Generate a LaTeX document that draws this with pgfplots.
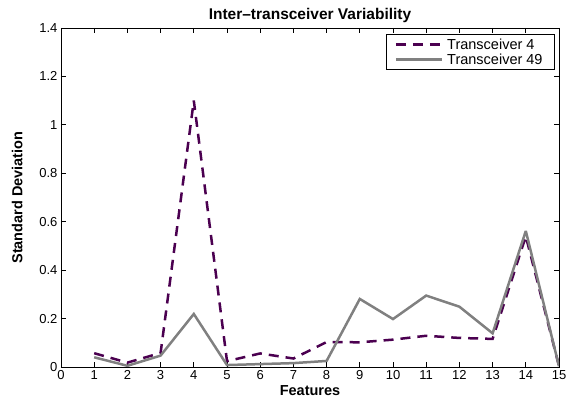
\documentclass[border=0pt]{standalone}
\usepackage{fontspec}
\setmainfont{Liberation Sans}
\usepackage{pgfplots}
\pgfplotsset{compat=1.18}
\definecolor{plum}{RGB}{75,0,80}
\definecolor{midgray}{RGB}{128,128,128}

\begin{document}
\begin{tikzpicture}
\begin{axis}[
  name=ax,
  scale only axis,
  width=498pt, height=339pt,
  xmin=0, xmax=15, ymin=0, ymax=1.4,
  xtick={0,1,...,15},
  ytick={0,0.2,0.4,0.6,0.8,1,1.2,1.4},
  yticklabels={0,0.2,0.4,0.6,0.8,1,1.2,1.4},
  /pgf/number format/assume math mode=true,
  tick label style={font=\fontsize{13}{15}\selectfont},
  tick align=inside,
  major tick length=5pt,
  xtick pos=both, ytick pos=both,
  xlabel={\textbf{Features}},
  ylabel={\textbf{Standard Deviation}},
  label style={font=\fontsize{14.5}{16}\selectfont},
  xlabel style={yshift=1pt},
  ylabel style={yshift=10pt},
  title={\textbf{Inter\textendash transceiver Variability}},
  title style={font=\fontsize{15.5}{17}\selectfont, yshift=-4pt},
  axis line style={line width=0.9pt},
  every tick/.style={black, line width=0.8pt},
  legend style={font=\fontsize{14.5}{16}\selectfont, at={(0.992,0.982)},
    anchor=north east, draw=black, line width=0.9pt,
    row sep=-1pt, inner xsep=8pt, inner ysep=2pt,
    nodes={inner xsep=4pt}},
  legend cell align=left,
  legend image post style={line width=2.5pt},
  legend image code/.code={\draw[#1] (0pt,0pt) -- (46pt,0pt);},
]
\addplot[plum, line width=2.5pt, dash pattern=on 10pt off 7pt, miter limit=2] coordinates {
  (1,0.057) (2,0.018) (3,0.058) (4,1.10) (5,0.024) (6,0.056) (7,0.035)
  (8,0.103) (9,0.102) (10,0.113) (11,0.129) (12,0.120) (13,0.116)
  (14,0.540) (15,0.004)};
\addlegendentry{Transceiver 4}
\addplot[midgray, line width=2.5pt, miter limit=2] coordinates {
  (1,0.040) (2,0.005) (3,0.047) (4,0.219) (5,0.008) (6,0.012) (7,0.016)
  (8,0.025) (9,0.281) (10,0.198) (11,0.295) (12,0.249) (13,0.139)
  (14,0.562) (15,0.003)};
\addlegendentry{Transceiver 49}
\end{axis}
\pgfresetboundingbox
\path[use as bounding box] ([xshift=-61pt,yshift=-36pt]ax.south west)
  rectangle ([xshift=7pt,yshift=28pt]ax.north east);
\end{tikzpicture}
\end{document}
